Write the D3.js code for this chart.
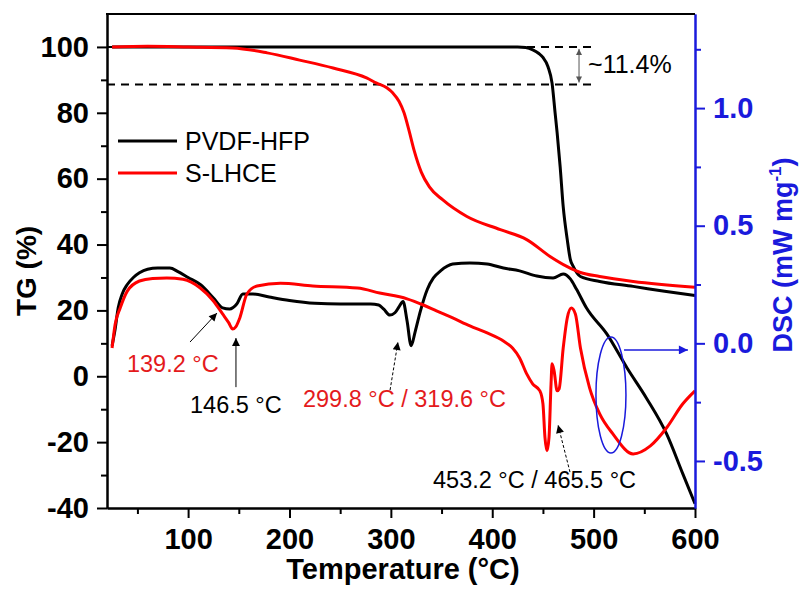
<!DOCTYPE html>
<html>
<head>
<meta charset="utf-8">
<script src="https://cdn.jsdelivr.net/npm/d3@7"></script>
<style>
body { margin: 0; background: #fff; }
text { font-family: Arial, 'Liberation Sans', sans-serif; }
</style>
</head>
<body>
<script>
var width = 802;
var height = 590;

// series names + colours
var names = ['PVDF-HFP', 'S-LHCE'];
var colors = ['#000000', '#ff0000'];

// TG (%) vs temperature (°C)
var pvdfTG = [[25,100],[100,100],[200,100],[300,100],[400,100],[425,100],[433,99.8],[440,99.1],[446,98],[450,96.8],[455,94],[459,89],[462,80],[464,74],[467,63.6],[470,51.5],[474,41.5],[477,35.5],[480,33.3],[487,30.3],[506,28.8],[539,27.3],[570,25.8],[600,24.5]];
var slhceTG = [[25,100],[60,100.2],[100,100],[144,99.7],[178,98.2],[210,96],[243,93.6],[276,90.6],[286,89],[296,87.6],[302,86],[308,83.5],[313,80],[318,74.5],[323,68.5],[330,62],[338,57.5],[351,53.6],[375,48.5],[408,44.5],[434,41.5],[457,36.4],[474,33.3],[487,31.5],[506,30.3],[539,28.8],[600,27]];

// DSC (mW mg-1) vs temperature (°C)
var pvdfDSC = [[25,-0.01],[28,0.06],[31,0.15],[35,0.21],[40,0.25],[46,0.28],[52,0.30],[60,0.315],[70,0.32],[82,0.32],[90,0.305],[100,0.28],[112,0.25],[125,0.193],[134,0.151],[141,0.146],[148,0.167],[154,0.21],[164,0.21],[180,0.197],[200,0.182],[225,0.17],[250,0.167],[280,0.167],[288,0.163],[293,0.145],[299,0.12],[304,0.13],[308,0.155],[312,0.178],[316,0.095],[320,-0.01],[324,0.05],[329,0.135],[336,0.23],[342,0.278],[349,0.308],[361,0.337],[378,0.342],[395,0.337],[411,0.32],[427,0.308],[444,0.286],[460,0.278],[470,0.295],[477,0.274],[483,0.231],[493,0.15],[513,0.04],[533,-0.105],[552,-0.232],[572,-0.385],[588,-0.555],[600,-0.682]];
var slhceDSC = [[25,-0.02],[28,0.08],[33,0.15],[40,0.222],[52,0.265],[65,0.276],[79,0.278],[95,0.272],[112,0.235],[125,0.18],[134,0.125],[140,0.088],[144,0.061],[147,0.07],[151,0.108],[158,0.21],[168,0.244],[191,0.255],[223,0.244],[267,0.235],[289,0.214],[316,0.189],[332,0.163],[345,0.138],[361,0.108],[378,0.074],[395,0.044],[411,0.01],[420,-0.02],[427,-0.062],[434,-0.13],[440,-0.173],[447,-0.202],[450,-0.257],[452,-0.4],[454,-0.457],[456,-0.4],[458,-0.173],[459,-0.087],[461,-0.117],[464,-0.202],[466,-0.193],[470,-0.02],[474,0.108],[478,0.15],[482,0.125],[487,-0.02],[496,-0.189],[506,-0.3],[519,-0.385],[539,-0.47],[556,-0.436],[572,-0.359],[588,-0.257],[600,-0.202]];

// ticks
var xTicks = [100, 200, 300, 400, 500, 600];
var xMinor = [50, 150, 250, 350, 450, 550];
var yTicks = [-40, -20, 0, 20, 40, 60, 80, 100];
var yMinor = [-30, -10, 10, 30, 50, 70, 90];
var y2Ticks = [-0.5, 0, 0.5, 1.0];
var y2Minor = [-0.25, 0.25, 0.75, 1.25];

var lossTop = 100, lossBottom = 88.6;

var svg = d3.select('body').append('svg')
    .attr('width', width)
    .attr('height', height)

var x = d3.scaleLinear().domain([20, 600]).range([107, 695]);
var y = d3.scaleLinear().domain([-40, 110]).range([508, 14]);
var y2 = d3.scaleLinear().domain([-0.7, 1.4]).range([508, 14]);

var defs = svg.append('defs');
function marker(id, color, w, h){
    defs.append('marker')
        .attr('id', id)
        .attr('viewBox', '0 0 10 10')
        .attr('refX', 10).attr('refY', 5)
        .attr('markerUnits', 'userSpaceOnUse')
        .attr('markerWidth', w).attr('markerHeight', h)
        .attr('orient', 'auto-start-reverse')
        .append('path').attr('d', 'M0,0L10,5L0,10Z').attr('fill', color)
}
marker('arrK', '#000', 12, 8)
marker('arrB', '#1a1adc', 12, 9)
marker('arrG', '#555', 7, 6)

// dashed mass-loss guides
svg.append('g').selectAll('line')
    .data([lossTop, lossBottom]).enter()
    .append('line')
        .attr('x1', x(20)).attr('x2', x(503))
        .attr('y1', d => y(d)).attr('y2', d => y(d))
        .attr('stroke', '#000')
        .attr('stroke-width', 2)
        .attr('stroke-dasharray', '8,6')

var lineTG = d3.line().x(d => x(d[0])).y(d => y(d[1])).curve(d3.curveMonotoneX);
var lineDSC = d3.line().x(d => x(d[0])).y(d => y2(d[1])).curve(d3.curveMonotoneX);

var curves = [
    {data: pvdfTG, line: lineTG, c: colors[0]},
    {data: pvdfDSC, line: lineDSC, c: colors[0]},
    {data: slhceTG, line: lineTG, c: colors[1]},
    {data: slhceDSC, line: lineDSC, c: colors[1]}
]
svg.append('g').selectAll('path')
    .data(curves).enter()
    .append('path')
        .attr('d', d => d.line(d.data))
        .attr('fill', 'none')
        .attr('stroke', d => d.c)
        .attr('stroke-width', 3)
        .attr('stroke-linejoin', 'round')

// axes
var fmtInt = d => String(d);
var fmt1 = d => d.toFixed(1);

function styleAxis(g, color){
    g.select('.domain').attr('stroke', color).attr('stroke-width', 2)
    g.selectAll('.tick line').attr('stroke', color).attr('stroke-width', 2)
    g.selectAll('.tick text')
        .attr('fill', color)
        .attr('font-size', '29px')
        .attr('font-weight', 'bold')
        .style('font-family', 'Arial, Liberation Sans, sans-serif')
}

var gx = svg.append('g').attr('transform', 'translate(0,508)')
    .call(d3.axisBottom(x).tickValues(xTicks).tickSize(10).tickPadding(10).tickFormat(fmtInt).tickSizeOuter(0))
styleAxis(gx, '#000')
var gxm = svg.append('g').attr('transform', 'translate(0,508)')
    .call(d3.axisBottom(x).tickValues(xMinor).tickSize(6).tickFormat('').tickSizeOuter(0))
styleAxis(gxm, '#000')

var gy = svg.append('g').attr('transform', 'translate(107,0)')
    .call(d3.axisLeft(y).tickValues(yTicks).tickSize(10).tickPadding(8).tickFormat(fmtInt).tickSizeOuter(0))
styleAxis(gy, '#000')
var gym = svg.append('g').attr('transform', 'translate(107,0)')
    .call(d3.axisLeft(y).tickValues(yMinor).tickSize(6).tickFormat('').tickSizeOuter(0))
styleAxis(gym, '#000')

var blue = '#1a1adc';
var gy2 = svg.append('g').attr('transform', 'translate(695,0)')
    .call(d3.axisRight(y2).tickValues(y2Ticks).tickSize(10).tickPadding(8).tickFormat(fmt1).tickSizeOuter(0))
styleAxis(gy2, blue)
var gy2m = svg.append('g').attr('transform', 'translate(695,0)')
    .call(d3.axisRight(y2).tickValues(y2Minor).tickSize(6).tickFormat('').tickSizeOuter(0))
styleAxis(gy2m, blue)

// top frame
svg.append('line')
    .attr('x1', x(20) - 1).attr('x2', x(600))
    .attr('y1', y(110)).attr('y2', y(110))
    .attr('stroke', '#000').attr('stroke-width', 2)

// axis titles
svg.append('text')
    .attr('x', 403).attr('y', 579)
    .attr('text-anchor', 'middle')
    .attr('font-size', '29px').attr('font-weight', 'bold')
    .text('Temperature (°C)')

svg.append('text')
    .attr('transform', 'translate(36,271) rotate(-90)')
    .attr('text-anchor', 'middle')
    .attr('font-size', '28px').attr('font-weight', 'bold')
    .text('TG (%)')

var dscTitle = svg.append('text')
    .attr('transform', 'translate(792,255) rotate(-90)')
    .attr('text-anchor', 'middle')
    .attr('font-size', '27px').attr('font-weight', 'bold')
    .attr('fill', blue)
dscTitle.append('tspan').text('DSC (mW mg')
dscTitle.append('tspan').attr('dy', -11).attr('font-size', '17px').text('-1')
dscTitle.append('tspan').attr('dy', 11).text(')')

// legend
var legend = svg.append('g').selectAll('g')
    .data(names).enter()
    .append('g')
        .attr('transform', (d, i) => 'translate(118,' + (141 + i * 32) + ')')
legend.append('line')
    .attr('x1', 0).attr('x2', 59)
    .attr('stroke', (d, i) => colors[i])
    .attr('stroke-width', 3)
legend.append('text')
    .attr('x', 67).attr('y', 9)
    .attr('font-size', '25px')
    .text(d => d)

// mass loss marker
svg.append('line')
    .attr('x1', x(485.6)).attr('x2', x(485.6))
    .attr('y1', y(lossTop) + 2).attr('y2', y(lossBottom) - 2)
    .attr('stroke', '#555').attr('stroke-width', 1)
    .attr('marker-start', 'url(#arrG)')
    .attr('marker-end', 'url(#arrG)')
svg.append('text')
    .attr('x', x(494.5)).attr('y', y(92.1))
    .attr('font-size', '25px')
    .text('~11.4%')

// peak annotations (temperature / TG axis coords)
var labels = [
    {t: '139.2 °C', T: 39.7, v: 1.3, c: '#e41a1c'},
    {t: '146.5 °C', T: 101.9, v: -11.2, c: '#000'},
    {t: '299.8 °C / 319.6 °C', T: 213.3, v: -9.3, c: '#e41a1c'},
    {t: '453.2 °C / 465.5 °C', T: 341.6, v: -34, c: '#000'}
]
svg.append('g').selectAll('text')
    .data(labels).enter()
    .append('text')
        .attr('x', d => x(d.T)).attr('y', d => y(d.v))
        .attr('font-size', '23.5px')
        .attr('fill', d => d.c)
        .text(d => d.t)

var arrows = [
    {T1: 101.9, v1: 10.4, T2: 128.5, v2: 19.2, dash: null},
    {T1: 147.2, v1: -3.3, T2: 147.2, v2: 11.6, dash: null},
    {T1: 299.2, v1: -4.2, T2: 307, v2: 10.4, dash: '3,2'},
    {T1: 476.7, v1: -29.1, T2: 464.9, v2: -14.8, dash: '3,2'}
]
svg.append('g').selectAll('line')
    .data(arrows).enter()
    .append('line')
        .attr('x1', d => x(d.T1)).attr('y1', d => y(d.v1))
        .attr('x2', d => x(d.T2)).attr('y2', d => y(d.v2))
        .attr('stroke', '#000').attr('stroke-width', 1)
        .attr('stroke-dasharray', d => d.dash)
        .attr('marker-end', 'url(#arrK)')

// ellipse pointing to DSC axis
svg.append('ellipse')
    .attr('cx', x(517.1)).attr('cy', y(-5.7))
    .attr('rx', 15).attr('ry', 58)
    .attr('fill', 'none').attr('stroke', blue).attr('stroke-width', 1.5)
svg.append('line')
    .attr('x1', x(530)).attr('x2', x(593))
    .attr('y1', y(8)).attr('y2', y(8))
    .attr('stroke', blue).attr('stroke-width', 1.5)
    .attr('marker-end', 'url(#arrB)')
</script>
</body>
</html>
